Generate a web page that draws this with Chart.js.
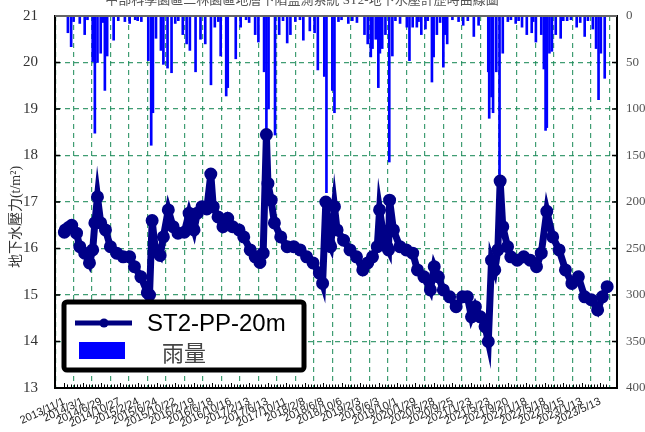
<!DOCTYPE html>
<html>
<head>
<meta charset="utf-8">
<script src="https://cdn.jsdelivr.net/npm/chart.js@4"></script>
<style>
  body { margin: 0; background: #fff; }
  canvas { display: block; }
</style>
</head>
<body>
<canvas id="chart1" width="645" height="432"></canvas>
<script>
const chartTitle = "中部科學園區二林園區地層下陷監測系統 ST2-地下水壓計歷時曲線圖";
const yTitle = "地下水壓力(t/m²)";
const seriesName = "ST2-PP-20m";
const rainName = "雨量";

const xTickLabels = [
  "2013/11/1", "2014/3/1", "2014/6/29", "2014/10/27", "2015/2/24", "2015/6/24",
  "2015/10/22", "2016/2/19", "2016/6/18", "2016/10/16", "2017/2/13", "2017/6/13",
  "2017/10/11", "2018/2/8", "2018/6/8", "2018/10/6", "2019/2/3", "2019/6/3",
  "2019/10/1", "2020/1/29", "2020/5/28", "2020/9/25", "2021/1/23", "2021/5/23",
  "2021/9/20", "2022/1/18", "2022/5/18", "2022/9/15", "2023/1/13", "2023/5/13"
];

// days after 2013/11/1
const pressureDays = [
  0, 6, 27, 48, 79, 100, 132, 163, 184, 198, 215, 236, 267, 299, 340, 382, 424, 455, 497, 539,
  553, 570, 591, 622, 643, 675, 706, 738, 779, 810, 842, 863, 894, 925, 951, 967, 998, 1030, 1061, 1092,
  1134, 1165, 1207, 1239, 1270, 1291, 1312, 1322, 1343, 1364, 1405, 1447, 1489, 1531, 1573, 1615, 1656, 1677, 1698, 1719,
  1729, 1754, 1771, 1813, 1855, 1897, 1938, 1970, 2001, 2032, 2047, 2074, 2095, 2105, 2112, 2137, 2179, 2220, 2262, 2293,
  2335, 2377, 2402, 2429, 2461, 2502, 2544, 2586, 2617, 2644, 2669, 2701, 2732, 2753, 2774, 2795, 2815, 2830, 2847, 2878,
  2899, 2941, 2983, 3025, 3066, 3097, 3133, 3171, 3213, 3254, 3296, 3338, 3379, 3421, 3463, 3494, 3525
];
const pressureValues = [
  16.35, 16.40, 16.45, 16.50, 16.33, 16.04, 15.90, 15.69, 15.97, 16.55, 17.11, 16.55, 16.40, 16.04, 15.90, 15.82, 15.82, 15.61, 15.39, 15.05,
  15.00, 16.60, 15.97, 15.85, 16.25, 16.83, 16.47, 16.33, 16.35, 16.76, 16.40, 16.76, 16.90, 16.85, 17.60, 16.90, 16.68, 16.47, 16.65, 16.47,
  16.40, 16.25, 15.97, 15.82, 15.70, 15.90, 18.45, 17.40, 17.04, 16.55, 16.25, 16.04, 16.04, 15.97, 15.82, 15.69, 15.47, 15.25, 17.00, 16.11,
  16.04, 16.90, 16.40, 16.18, 15.97, 15.82, 15.54, 15.69, 15.82, 16.04, 16.83, 16.25, 16.04, 15.97, 17.04, 16.40, 16.04, 15.97, 15.90, 15.54,
  15.39, 15.11, 15.61, 15.39, 15.11, 14.96, 14.75, 14.96, 14.96, 14.53, 14.75, 14.53, 14.32, 14.00, 15.75, 15.54, 15.97, 17.45, 16.47, 16.04,
  15.82, 15.75, 15.82, 15.75, 15.61, 15.90, 16.80, 16.25, 15.97, 15.54, 15.25, 15.39, 14.96, 14.90, 14.68, 14.96, 15.18
];

const rainDays = [
  23, 44, 60, 100, 132, 150, 184, 198, 215, 236, 250, 263, 278, 320, 350, 393, 424, 460, 476, 500,
  545, 564, 575, 595, 627, 643, 670, 696, 720, 740, 769, 794, 815, 852, 884, 915, 952, 977, 1000, 1015,
  1051, 1061, 1113, 1145, 1180, 1200, 1239, 1260, 1297, 1312, 1326, 1368, 1395, 1420, 1447, 1468, 1500, 1530, 1552, 1594,
  1625, 1646, 1688, 1702, 1740, 1754, 1780, 1800, 1844, 1870, 1900, 1949, 1970, 1990, 2001, 2022, 2039, 2049, 2064, 2085,
  2110, 2130, 2150, 2180, 2224, 2241, 2262, 2289, 2300, 2318, 2345, 2360, 2387, 2398, 2419, 2440, 2461, 2471, 2486, 2520,
  2560, 2590, 2620, 2659, 2690, 2753, 2759, 2774, 2784, 2805, 2826, 2847, 2880, 2900, 2931, 2950, 2972, 3003, 3035, 3045,
  3062, 3097, 3114, 3125, 3133, 3150, 3166, 3191, 3223, 3240, 3265, 3290, 3327, 3350, 3379, 3400, 3432, 3453, 3469, 3484,
  3509
];
const rainValues = [
  18, 33, 6, 8, 20, 4, 49, 126, 50, 40, 7, 80, 43, 26, 5, 6, 8, 4, 5, 6,
  48, 139, 104, 24, 37, 52, 56, 61, 8, 5, 20, 30, 37, 60, 25, 30, 74, 12, 6, 43,
  86, 77, 46, 12, 4, 7, 20, 28, 60, 125, 100, 128, 20, 5, 29, 20, 6, 4, 26, 16,
  18, 58, 65, 190, 80, 104, 6, 4, 8, 5, 7, 20, 30, 44, 35, 25, 77, 40, 35, 20,
  157, 43, 5, 8, 12, 48, 12, 12, 6, 20, 14, 5, 71, 44, 20, 7, 55, 20, 30, 4,
  6, 10, 5, 22, 10, 60, 110, 87, 104, 60, 178, 40, 6, 4, 8, 5, 12, 20, 18, 6,
  28, 20, 57, 123, 120, 40, 38, 20, 24, 5, 5, 4, 12, 7, 22, 5, 14, 35, 90, 40,
  67
];

function dayOf(label) {
  const [y, m, d] = label.split("/").map(Number);
  return (Date.UTC(y, m - 1, d) - Date.UTC(2013, 10, 1)) / 86400000;
}

const gridGreen = "rgba(30,140,90,0.85)";

// no automatic label padding, so the plot box sits where layout.padding puts it
function noPad(s) {
  s.paddingTop = 0; s.paddingBottom = 0; s.paddingLeft = 0; s.paddingRight = 0;
}

// frame, inner ticks, titles and boxed legend
const decorPlugin = {
  id: "decor",
  afterDraw(chart) {
    const c = chart.ctx;
    const a = chart.chartArea;
    const x = chart.scales.x, y = chart.scales.y;
    c.save();
    c.strokeStyle = "#000";
    c.lineWidth = 1.5;
    c.beginPath();
    for (let v = 13; v <= 21; v++) {
      const py = y.getPixelForValue(v);
      c.moveTo(a.left, py); c.lineTo(a.left + 5, py);
      c.moveTo(a.right, py); c.lineTo(a.right - 5, py);
    }
    c.stroke();
    c.lineWidth = 1;
    c.beginPath();
    for (let d = 0; d <= x.max; d += 20) {
      const px = Math.round(x.getPixelForValue(d)) + 0.5;
      const len = d % 120 === 0 ? 5 : 3.5;
      c.moveTo(px, a.bottom); c.lineTo(px, a.bottom - len);
    }
    c.stroke();
    c.strokeStyle = "#666";
    c.lineWidth = 2;
    c.beginPath();
    c.moveTo(a.left, a.top); c.lineTo(a.right, a.top);
    c.stroke();

    c.fillStyle = "#555";
    c.font = "13px 'Liberation Serif', 'Noto Sans CJK TC', serif";
    c.textAlign = "center";
    c.textBaseline = "middle";
    c.fillText(chartTitle, 302, 1);

    c.save();
    c.translate(16, 217);
    c.rotate(-Math.PI / 2);
    c.fillStyle = "#333";
    c.font = "14px 'Liberation Serif', 'Noto Sans CJK TC', serif";
    c.fillText(yTitle, 0, 0);
    c.restore();

    // legend box
    c.fillStyle = "#fff";
    c.fillRect(62, 300, 244, 72);
    c.strokeStyle = "#000";
    c.lineWidth = 5;
    c.beginPath();
    c.roundRect(64, 302, 240, 68, 3);
    c.stroke();
    c.strokeStyle = "#000080";
    c.lineWidth = 5;
    c.beginPath();
    c.moveTo(75, 323); c.lineTo(132, 323);
    c.stroke();
    c.fillStyle = "#000080";
    c.beginPath();
    c.arc(104, 323, 4.5, 0, Math.PI * 2);
    c.fill();
    c.fillStyle = "#0000ff";
    c.fillRect(79, 342, 46, 17);
    c.textAlign = "left";
    c.fillStyle = "#000";
    c.font = "24px 'Liberation Sans', Arial, sans-serif";
    c.fillText(seriesName, 147, 324);
    c.fillStyle = "#444";
    c.font = "22px 'Noto Sans CJK TC', sans-serif";
    c.fillText(rainName, 162, 353);
    c.restore();
  }
};

const ctx = document.getElementById("chart1");
const chart = new Chart(ctx, {
  data: {
    datasets: [
      {
        type: "line",
        label: seriesName,
        data: pressureDays.map((d, i) => ({ x: d, y: pressureValues[i] })),
        yAxisID: "y",
        borderColor: "#000088",
        backgroundColor: "#000088",
        borderWidth: 7,
        pointRadius: 3,
        pointHoverRadius: 0,
        tension: 0,
      },
      {
        type: "bar",
        label: rainName,
        data: rainDays.map((d, i) => ({ x: d, y: rainValues[i] })),
        yAxisID: "y2",
        backgroundColor: "#0000ff",
        barThickness: 2,
      },
    ],
  },
  options: {
    responsive: false,
    animation: false,
    layout: { padding: { top: 16, left: 0, right: 0, bottom: 0 } },
    plugins: {
      legend: { display: false },
      tooltip: { enabled: false },
    },
    scales: {
      x: {
        type: "linear",
        min: 0,
        max: 3528,
        afterBuildTicks: (s) => { s.ticks = xTickLabels.map((l) => ({ value: dayOf(l) })); },
        afterFit: (s) => { s.height = 44; noPad(s); },
        ticks: {
          callback: (v, i) => xTickLabels[i],
          minRotation: 25,
          maxRotation: 25,
          autoSkip: false,
          padding: 7,
          color: "#222",
          font: { family: "'Liberation Sans', Arial, sans-serif", size: 11 },
        },
        grid: { color: gridGreen, lineWidth: 1.2, drawTicks: false },
        border: { color: "#000", width: 2, dash: [5, 4] },
      },
      y: {
        position: "left",
        min: 13,
        max: 21,
        afterFit: (s) => { s.width = 55; noPad(s); },
        ticks: {
          stepSize: 1,
          padding: 17,
          color: "#333",
          font: { family: "'Liberation Serif', serif", size: 15 },
        },
        grid: { color: gridGreen, lineWidth: 1.2, drawTicks: false },
        border: { color: "#000", width: 2, dash: [5, 4] },
      },
      y2: {
        position: "right",
        min: 0,
        max: 400,
        reverse: true,
        afterFit: (s) => { s.width = 28; noPad(s); },
        ticks: {
          stepSize: 50,
          padding: 9,
          color: "#555",
          font: { family: "'Liberation Serif', serif", size: 13 },
        },
        grid: { display: false, drawTicks: false },
        border: { color: "#000", width: 2 },
      },
    },
  },
  plugins: [decorPlugin],
});
</script>
</body>
</html>
